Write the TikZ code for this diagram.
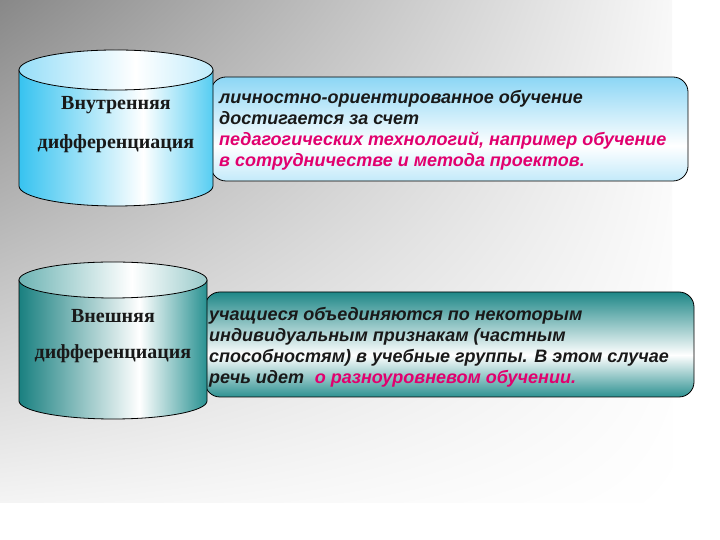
\documentclass[tikz,border=0pt]{standalone}
\usepackage{fontspec}
\usetikzlibrary{shadings}
\setmainfont{Liberation Serif}
\newfontfamily\arialfont{Liberation Sans}
\definecolor{cA1}{RGB}{55,195,240}
\definecolor{cA2}{RGB}{85,205,242}
\definecolor{cAt}{RGB}{150,222,248}
\definecolor{cB1}{RGB}{25,128,128}
\definecolor{cB2}{RGB}{40,145,145}
\definecolor{cBt}{RGB}{110,180,180}
\definecolor{bxAt}{RGB}{140,214,245}
\definecolor{bxAb}{RGB}{195,234,250}
\definecolor{bxBt}{RGB}{30,135,135}
\definecolor{bxBb}{RGB}{45,145,145}
\definecolor{pinktxt}{RGB}{225,0,110}
\definecolor{bgA}{RGB}{136,136,136}
\definecolor{bgB}{RGB}{248,248,248}
\definecolor{bgC}{RGB}{244,244,244}
\pgfdeclarehorizontalshading{cylbodyA}{100bp}{color(0bp)=(cA1); color(25bp)=(cA1); color(57bp)=(white); color(75bp)=(cA2); color(100bp)=(cA2)}
\pgfdeclarehorizontalshading{cyltopA}{100bp}{color(0bp)=(cAt); color(25bp)=(cAt); color(55bp)=(white); color(75bp)=(cAt!60!white); color(100bp)=(cAt!60!white)}
\pgfdeclarehorizontalshading{cylbodyB}{100bp}{color(0bp)=(cB1); color(25bp)=(cB1); color(57bp)=(white); color(75bp)=(cB2); color(100bp)=(cB2)}
\pgfdeclarehorizontalshading{cyltopB}{100bp}{color(0bp)=(cBt); color(25bp)=(cBt); color(55bp)=(white); color(75bp)=(cBt!70!white); color(100bp)=(cBt!70!white)}
\pgfdeclareverticalshading{boxA}{100bp}{color(0bp)=(bxAb); color(25bp)=(bxAb); color(42bp)=(white); color(75bp)=(bxAt); color(100bp)=(bxAt)}
\pgfdeclareverticalshading{boxB}{100bp}{color(0bp)=(bxBb); color(25bp)=(bxBb); color(45bp)=(white); color(75bp)=(bxBt); color(100bp)=(bxBt)}
\tikzset{
  outl/.style={draw=black, line width=0.8pt},
  cyltext/.style={font=\fontsize{20}{39}\selectfont\bfseries, align=center, inner sep=0pt, text=black!90},
  boxtext/.style={font=\arialfont\fontsize{18}{21}\selectfont\bfseries\itshape, align=left, inner sep=0pt, anchor=west, text=black!90}
}
\begin{document}
\begin{tikzpicture}[x=1pt,y=1pt]
\useasboundingbox (0,0) rectangle (720,540);
\fill[white] (0,0) rectangle (720,540);
\shade[upper left=bgA, upper right=bgB, lower left=bgC, lower right=white] (0,37) rectangle (672,540);
% box 1
\shade[shading=boxA, outl, rounded corners=15pt] (211,359) rectangle (688,463);
\node[boxtext] (t1) at (219,409.5) {личностно-ориентированное обучение\\достигается за счет\\\textcolor{pinktxt}{педагогических технологий, например обучение}\\\textcolor{pinktxt}{в сотрудничестве и метода проектов.}};
% box 2
\shade[shading=boxB, outl, rounded corners=15pt] (205,143) rectangle (694,248);
\node[boxtext] (t2) at (209,192.5) {учащиеся объединяются по некоторым\\индивидуальным признакам (частным\\способностям) в учебные группы. В этом случае\\речь идет\hspace{0.6em}\textcolor{pinktxt}{о разноуровневом обучении.}};
% cylinder 1
\shade[shading=cylbodyA, outl] (19,470) -- (19,354) arc[start angle=180,end angle=360,x radius=97,y radius=20] -- (213,470) -- cycle;
\shade[shading=cyltopA, outl] (116,470) ellipse[x radius=97, y radius=20];
\node[cyltext] (c1) at (116,415.5) {Внутренняя\\дифференциация};
% cylinder 2
\shade[shading=cylbodyB, outl] (19,260) -- (19,139) arc[start angle=180,end angle=360,x radius=94,y radius=18] -- (207,260) -- cycle;
\shade[shading=cyltopB, outl] (113,260) ellipse[x radius=94, y radius=18];
\node[cyltext, font=\fontsize{20}{36}\selectfont\bfseries] (c2) at (113,204) {Внешняя\\дифференциация};
\end{tikzpicture}
\end{document}
